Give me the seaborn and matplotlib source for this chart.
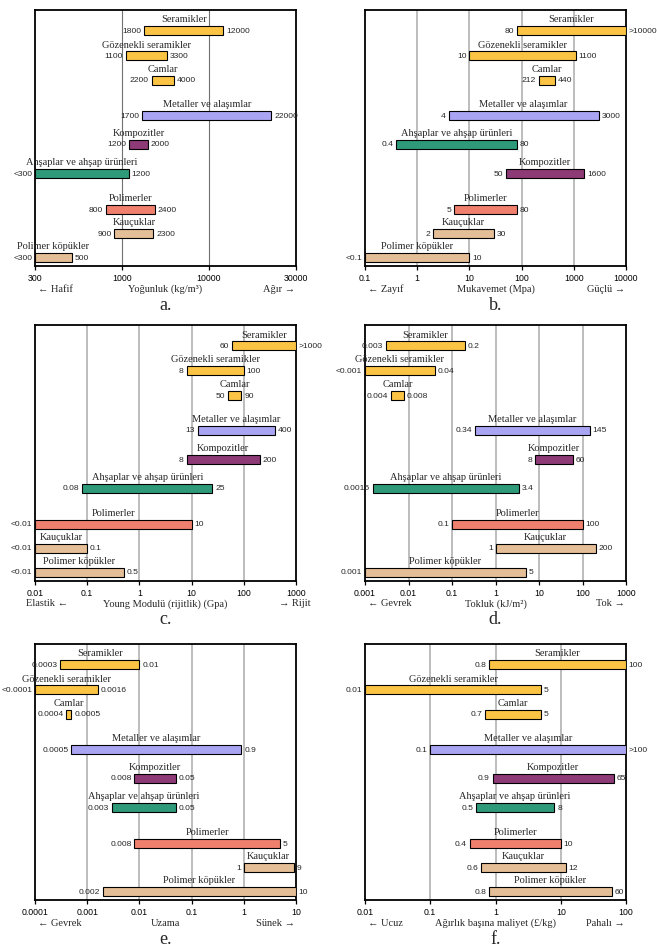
import numpy as np
import matplotlib
matplotlib.use("Agg")
import matplotlib.pyplot as plt
import seaborn as sns
from matplotlib.ticker import FixedLocator, FixedFormatter, NullLocator

# ---------------- data ----------------
mat_std = ["Seramikler", "Gözenekli seramikler", "Camlar", "Metaller ve alaşımlar",
           "Kompozitler", "Ahşaplar ve ahşap ürünleri", "Polimerler", "Kauçuklar",
           "Polimer köpükler"]
mat_b = ["Seramikler", "Gözenekli seramikler", "Camlar", "Metaller ve alaşımlar",
         "Ahşaplar ve ahşap ürünleri", "Kompozitler", "Polimerler", "Kauçuklar",
         "Polimer köpükler"]

low_a = ["1800", "1100", "2200", "1700", "1200", "<300", "800", "900", "<300"]
high_a = ["12000", "3300", "4000", "22000", "2000", "1200", "2400", "2300", "500"]
ticks_a = ["300", "1000", "10000", "30000"]

low_b = ["80", "10", "212", "4", "0.4", "50", "5", "2", "<0.1"]
high_b = [">10000", "1100", "440", "3000", "80", "1600", "80", "30", "10"]
ticks_b = ["0.1", "1", "10", "100", "1000", "10000"]

low_c = ["60", "8", "50", "13", "8", "0.08", "<0.01", "<0.01", "<0.01"]
high_c = [">1000", "100", "90", "400", "200", "25", "10", "0.1", "0.5"]
ticks_c = ["0.01", "0.1", "1", "10", "100", "1000"]

low_d = ["0.003", "<0.001", "0.004", "0.34", "8", "0.0015", "0.1", "1", "0.001"]
high_d = ["0.2", "0.04", "0.008", "145", "60", "3.4", "100", "200", "5"]
ticks_d = ["0.001", "0.01", "0.1", "1", "10", "100", "1000"]

low_e = ["0.0003", "<0.0001", "0.0004", "0.0005", "0.008", "0.003", "0.008", "1", "0.002"]
high_e = ["0.01", "0.0016", "0.0005", "0.9", "0.05", "0.05", "5", "9", "10"]
ticks_e = ["0.0001", "0.001", "0.01", "0.1", "1", "10"]

low_f = ["0.8", "0.01", "0.7", "0.1", "0.9", "0.5", "0.4", "0.6", "0.8"]
high_f = ["100", "5", "5", ">100", "65", "8", "10", "12", "60"]
ticks_f = ["0.01", "0.1", "1", "10", "100"]

xlabels = ["Yoğunluk (kg/m³)", "Mukavemet (Mpa)", "Young Modulü (rijitlik) (Gpa)",
           "Tokluk (kJ/m²)", "Uzama", "Ağırlık başına maliyet (£/kg)"]
left_labels = ["← Hafif", "← Zayıf", "Elastik ←", "← Gevrek", "← Gevrek", "← Ucuz"]
right_labels = ["Ağır →", "Güçlü →", "→ Rijit", "Tok →", "Sünek →", "Pahalı →"]
letters = ["a.", "b.", "c.", "d.", "e.", "f."]

# ---------------- style / layout ----------------
COLORS = {
    "Seramikler": "#FBC445", "Gözenekli seramikler": "#FBC445", "Camlar": "#FBC445",
    "Metaller ve alaşımlar": "#AAA5F2", "Kompozitler": "#8D3A77",
    "Ahşaplar ve ahşap ürünleri": "#2F9A7A", "Polimerler": "#F0806E",
    "Kauçuklar": "#E3BE96", "Polimer köpükler": "#E3BE96",
}
SERIF = ["Liberation Serif", "DejaVu Serif"]
SANS = ["Liberation Sans Narrow", "Liberation Sans", "DejaVu Sans"]
PANEL_H = 256
ROW_Y = [20.5, 45.5, 70, 105, 134, 163, 199, 223, 247]
BAR_H = 9
W, H = 657, 951

sns.set_theme(style="white")
plt.rcParams["font.family"] = SERIF


def piecewise_log(ticks):
    lt = np.log10(np.asarray(ticks, float))
    idx = np.arange(len(lt), dtype=float)

    def fwd(x):
        x = np.log10(np.clip(np.asarray(x, float), 1e-300, None))
        y = np.interp(x, lt, idx)
        y = np.where(x < lt[0], (x - lt[0]) / (lt[1] - lt[0]), y)
        y = np.where(x > lt[-1], idx[-1] + (x - lt[-1]) / (lt[-1] - lt[-2]), y)
        return y

    def inv(y):
        y = np.asarray(y, float)
        x = np.interp(y, idx, lt)
        x = np.where(y < 0, lt[0] + y * (lt[1] - lt[0]), x)
        x = np.where(y > idx[-1], lt[-1] + (y - idx[-1]) * (lt[-1] - lt[-2]), x)
        return 10 ** x

    return fwd, inv


def draw(ax, names, lows, highs, ticks, i, piecewise=False):
    lo = np.array([float(s.lstrip("<>")) for s in lows])
    hi = np.array([float(s.lstrip("<>")) for s in highs])
    tv = np.array([float(t) for t in ticks])
    if piecewise:
        ax.set_xscale("function", functions=piecewise_log(tv))
        gcol, glw = "#707070", 0.8
    else:
        ax.set_xscale("log")
        gcol, glw = "#bdbdbd", 1.4
    ax.set_xlim(tv[0], tv[-1])
    ax.set_ylim(PANEL_H, 0)

    for t in tv[1:-1]:
        ax.axvline(t, color=gcol, lw=glw, zorder=1)

    ax.barh(ROW_Y, hi - lo, left=lo, height=BAR_H,
            color=[COLORS[n] for n in names], edgecolor="black",
            linewidth=0.8, zorder=3)

    tr = ax.xaxis.get_transform()
    for n, y, l, h, ls, hs in zip(names, ROW_Y, lo, hi, lows, highs):
        mid = tr.inverted().transform(
            [(tr.transform([l])[0] + tr.transform([h])[0]) / 2.0])[0]
        ax.text(mid, y - BAR_H / 2 - 3.5, n, ha="center", va="baseline",
                fontsize=7.5, family=SERIF, zorder=4)
        ax.annotate(ls, xy=(l, y), xytext=(-2.0, 0), textcoords="offset points",
                    ha="right", va="center_baseline", fontsize=6.1, family=SANS,
                    annotation_clip=False)
        ax.annotate(hs, xy=(h, y), xytext=(2.0, 0), textcoords="offset points",
                    ha="left", va="center_baseline", fontsize=6.1, family=SANS,
                    annotation_clip=False)

    ax.xaxis.set_major_locator(FixedLocator(tv))
    ax.xaxis.set_major_formatter(FixedFormatter(ticks))
    ax.xaxis.set_minor_locator(NullLocator())
    ax.set_yticks([])
    ax.tick_params(axis="x", direction="out", length=3, width=0.9,
                   labelsize=6.3, pad=3, bottom=True, colors="black")
    for lab in ax.get_xticklabels():
        lab.set_family(SANS)
    for sp in ax.spines.values():
        sp.set_visible(True)
        sp.set_color("black")
        sp.set_linewidth(1.3)

    # axis captions
    px = 0.72
    if i == 2:
        lx, rx = -0.035, 1.055
    else:
        lx, rx = 0.01, 0.995
    ax.annotate(left_labels[i], xy=(lx, 0), xycoords="axes fraction",
                xytext=(0, -23 * px), textcoords="offset points",
                ha="left", va="center", fontsize=7.5, family=SERIF)
    ax.annotate(right_labels[i], xy=(rx, 0), xycoords="axes fraction",
                xytext=(0, -23 * px), textcoords="offset points",
                ha="right", va="center", fontsize=7.5, family=SERIF)
    ax.annotate(xlabels[i], xy=(0.5, 0), xycoords="axes fraction",
                xytext=(0, -23 * px), textcoords="offset points",
                ha="center", va="center", fontsize=7.5, family=SERIF)
    ax.annotate(letters[i], xy=(0.5, 0), xycoords="axes fraction",
                xytext=(0, -39 * px), textcoords="offset points",
                ha="center", va="center", fontsize=13, family=SERIF)


fig = plt.figure(figsize=(W / 100, H / 100), dpi=100)
fig.patch.set_facecolor("white")
lefts = [35, 365]
tops = [10, 325, 644]
panels = [
    (mat_std, low_a, high_a, ticks_a, True),
    (mat_b, low_b, high_b, ticks_b, False),
    (mat_std, low_c, high_c, ticks_c, False),
    (mat_std, low_d, high_d, ticks_d, False),
    (mat_std, low_e, high_e, ticks_e, False),
    (mat_std, low_f, high_f, ticks_f, False),
]
for i, (names, lows, highs, ticks, pw) in enumerate(panels):
    x0 = lefts[i % 2]
    t0 = tops[i // 2]
    ax = fig.add_axes([x0 / W, (H - t0 - PANEL_H) / H, 261 / W, PANEL_H / H])
    ax.set_facecolor("white")
    draw(ax, names, lows, highs, ticks, i, piecewise=pw)

fig.savefig("out.png", dpi=100, facecolor="white")
